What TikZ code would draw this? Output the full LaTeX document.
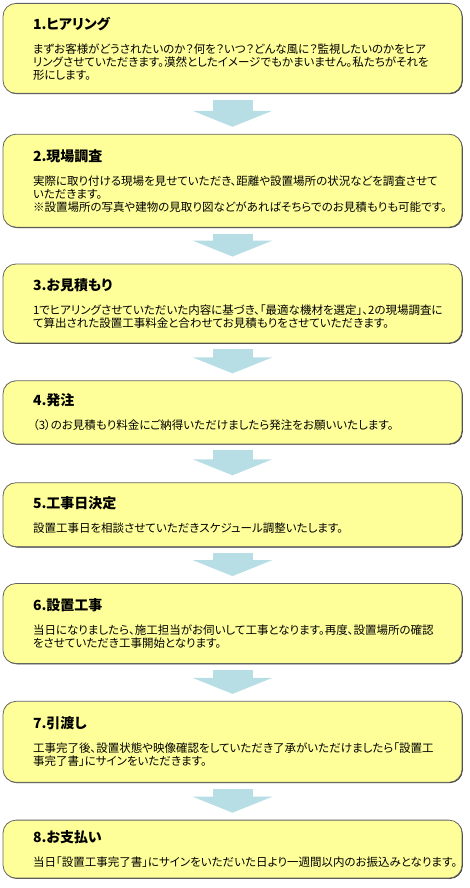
\documentclass[tikz,border=0pt]{standalone}
\usepackage{fontspec}
\setmainfont{Noto Sans CJK JP}[RawFeature=+palt]
\definecolor{boxyellow}{RGB}{255, 255, 153}
\definecolor{boxedge}{RGB}{100, 100, 100}
\definecolor{flowblue}{RGB}{183, 222, 228}
\usetikzlibrary{arrows.meta, positioning, shadows}
\newcommand{\steptitle}[1]{{\fontsize{14}{16}\selectfont\bfseries #1}\\[11pt]}

\begin{document}
\begin{tikzpicture}[
        node distance=37pt,
        stepbox/.style={rectangle, rounded corners=13pt, draw=boxedge, line width=0.8pt,
                    fill=boxyellow, text width=399pt, inner xsep=30pt, inner ysep=13pt,
                    align=left, font=\fontsize{11.5}{13}\selectfont,
                    drop shadow={shadow xshift=0.8pt, shadow yshift=-0.8pt, fill=black, opacity=0.8}},
        flow/.style={line width=40pt, color=flowblue, shorten <=6pt, shorten >=7pt,
                    -{Triangle[width=79pt, length=16pt]}}
      ]
        \useasboundingbox (0,0) rectangle (470pt,-888pt);
        \node[stepbox, minimum height=90pt, anchor=north] (hear) at (232.5pt,-3pt) {\steptitle{1.ヒアリング}%
          まずお客様がどうされたいのか？何を？いつ？どんな風に？監視したいのかをヒア\\
          リングさせていただきます。漠然としたイメージでもかまいません。私たちがそれを\\
          形にします。};
        \node[stepbox, minimum height=93pt, below=40pt of hear] (survey) {\steptitle{2.現場調査}%
          実際に取り付ける現場を見せていただき、距離や設置場所の状況などを調査させて\\
          いただきます。\\
          ※設置場所の写真や建物の見取り図などがあればそちらでのお見積もりも可能です。};
        \node[stepbox, minimum height=79pt, below=36pt of survey] (quote) {\steptitle{3.お見積もり}%
          1でヒアリングさせていただいた内容に基づき、「最適な機材を選定」、2の現場調査に\\
          て算出された設置工事料金と合わせてお見積もりをさせていただきます。};
        \node[stepbox, minimum height=63pt, below=of quote] (order) {\steptitle{4.発注}%
          （3）のお見積もり料金にご納得いただけましたら発注をお願いいたします。};
        \node[stepbox, minimum height=64pt, below=38pt of order] (date) {\steptitle{5.工事日決定}%
          設置工事日を相談させていただきスケジュール調整いたします。};
        \node[stepbox, minimum height=80pt, below=36pt of date] (work) {\steptitle{6.設置工事}%
          当日になりましたら、施工担当がお伺いして工事となります。再度、設置場所の確認\\
          をさせていただき工事開始となります。};
        \node[stepbox, minimum height=81pt, below=of work] (handover) {\steptitle{7.引渡し}%
          工事完了後、設置状態や映像確認をしていただき了承がいただけましたら「設置工\\
          事完了書」にサインをいただきます。};
        \node[stepbox, inner ysep=10pt, minimum height=58pt, below=of handover] (pay) {\steptitle{8.お支払い}%
          当日「設置工事完了書」にサインをいただいた日より一週間以内のお振込みとなります。};
        \draw[flow] (hear) -- (survey);
        \draw[flow] (survey) -- (quote);
        \draw[flow] (quote) -- (order);
        \draw[flow] (order) -- (date);
        \draw[flow] (date) -- (work);
        \draw[flow] (work) -- (handover);
        \draw[flow] (handover) -- (pay);
      \end{tikzpicture}
\end{document}
